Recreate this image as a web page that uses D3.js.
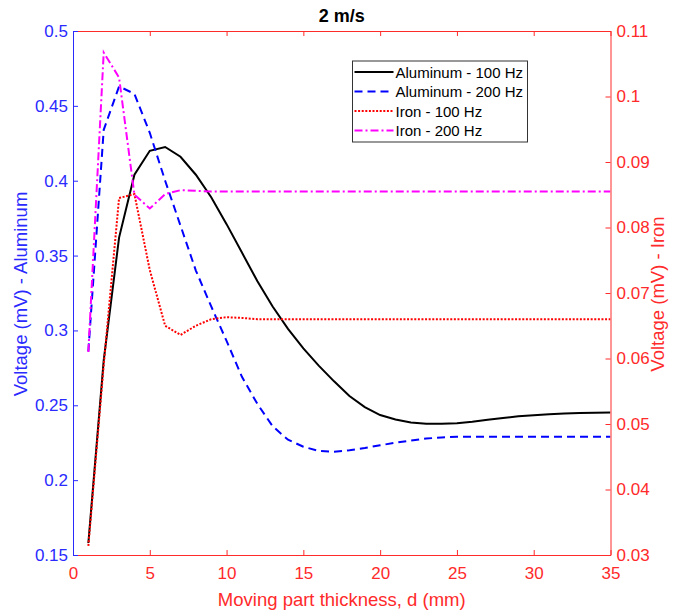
<!DOCTYPE html>
<html>
<head>
<meta charset="utf-8">
<script src="https://cdn.jsdelivr.net/npm/d3@7"></script>
<style>
  html, body { margin: 0; padding: 0; background: #fff; }
  text { font-family: "Liberation Sans", Arial, Helvetica, sans-serif; }
</style>
</head>
<body>
<svg id="chart" width="678" height="612"></svg>
<script>
// ---- Data ----
const thickness = d3.range(1, 36); // 1..35 mm
const aluminum100 = [0.158, 0.280, 0.362, 0.404, 0.420, 0.4225, 0.416, 0.404, 0.389, 0.371,
  0.352, 0.333, 0.316, 0.301, 0.288, 0.2765, 0.266, 0.2562, 0.2488, 0.2435,
  0.2405, 0.2385, 0.2376, 0.2376, 0.2380, 0.2390, 0.2403, 0.2415, 0.2426, 0.2434,
  0.2440, 0.2445, 0.2448, 0.2450, 0.2452];
const aluminum200 = [0.286, 0.434, 0.463, 0.458, 0.432, 0.400, 0.370, 0.340, 0.316, 0.293,
  0.269, 0.251, 0.236, 0.227, 0.2223, 0.2195, 0.219, 0.2200, 0.2215, 0.2233,
  0.2250, 0.2265, 0.2278, 0.2285, 0.2290, 0.2290, 0.2290, 0.2290, 0.2290, 0.2290,
  0.2290, 0.2290, 0.2290, 0.2290, 0.2290];
const iron100 = [0.0314, 0.059, 0.0845, 0.0851, 0.0735, 0.065, 0.0636, 0.065, 0.066, 0.0663,
  0.0662, 0.066, 0.066, 0.066, 0.066, 0.066, 0.066, 0.066, 0.066, 0.066,
  0.066, 0.066, 0.066, 0.066, 0.066, 0.066, 0.066, 0.066, 0.066, 0.066,
  0.066, 0.066, 0.066, 0.066, 0.066];
const iron200 = [0.061, 0.1067, 0.1029, 0.085, 0.0829, 0.0851, 0.0857, 0.0856, 0.0855, 0.0855,
  0.0855, 0.0855, 0.0855, 0.0855, 0.0855, 0.0855, 0.0855, 0.0855, 0.0855, 0.0855,
  0.0855, 0.0855, 0.0855, 0.0855, 0.0855, 0.0855, 0.0855, 0.0855, 0.0855, 0.0855,
  0.0855, 0.0855, 0.0855, 0.0855, 0.0855];
const seriesNames = ["Aluminum - 100 Hz", "Aluminum - 200 Hz", "Iron - 100 Hz", "Iron - 200 Hz"];
const xTicks = [0, 5, 10, 15, 20, 25, 30, 35];
const xTickLabels = ["0", "5", "10", "15", "20", "25", "30", "35"];
const leftTicks = [0.15, 0.2, 0.25, 0.3, 0.35, 0.4, 0.45, 0.5];
const leftTickLabels = ["0.15", "0.2", "0.25", "0.3", "0.35", "0.4", "0.45", "0.5"];
const rightTicks = [0.03, 0.04, 0.05, 0.06, 0.07, 0.08, 0.09, 0.1, 0.11];
const rightTickLabels = ["0.03", "0.04", "0.05", "0.06", "0.07", "0.08", "0.09", "0.1", "0.11"];
const titleText = "2 m/s";
const xLabel = "Moving part thickness, d (mm)";
const leftLabel = "Voltage (mV) - Aluminum";
const rightLabel = "Voltage (mV) - Iron";

// ---- Layout ----
const svg = d3.select("#chart");
const L = 73, R = 610.5, T = 31, B = 555;
const BLUE = "#0000ff", RED = "#ff0000", MAG = "#ff00ff";
const AXBLUE = "#2a2aff", AXRED = "#ff2a2a";
const FONT = "Liberation Sans, Arial, sans-serif";

const x = d3.scaleLinear().domain([0, 35]).range([L, R]);
const yL = d3.scaleLinear().domain([0.15, 0.5]).range([B, T]);
const yR = d3.scaleLinear().domain([0.03, 0.11]).range([B, T]);

svg.append("clipPath").attr("id", "clip")
  .append("rect").attr("x", L).attr("y", T).attr("width", R - L).attr("height", B - T);

const series = [
  { name: seriesNames[0], vals: aluminum100, y: yL, color: "#000", dash: null },
  { name: seriesNames[1], vals: aluminum200, y: yL, color: BLUE, dash: "8,5" },
  { name: seriesNames[2], vals: iron100, y: yR, color: RED, dash: "2,1.6" },
  { name: seriesNames[3], vals: iron200, y: yR, color: MAG, dash: "8,3,2,3" }
];

const g = svg.append("g").attr("clip-path", "url(#clip)");
series.forEach(s => {
  const line = d3.line().x((d, i) => x(thickness[i])).y(d => s.y(d));
  g.append("path").datum(s.vals)
    .attr("d", line)
    .attr("fill", "none")
    .attr("stroke", s.color)
    .attr("stroke-width", 2)
    .attr("stroke-dasharray", s.dash);
});

// axes
const tickSize = 5;
const fs = 17;
const xb = svg.append("g").attr("transform", `translate(0,${B})`)
  .call(d3.axisBottom(x).tickValues(xTicks).tickFormat((d, i) => xTickLabels[i]).tickSizeInner(-tickSize).tickSizeOuter(0).tickPadding(12));
xb.select(".domain").attr("stroke", AXRED);
xb.selectAll(".tick line").attr("stroke", AXRED);
xb.selectAll(".tick text").attr("fill", AXRED).attr("font-size", fs).attr("font-family", FONT);

const xt = svg.append("g").attr("transform", `translate(0,${T})`)
  .call(d3.axisTop(x).tickValues(xTicks).tickFormat("").tickSizeInner(-tickSize).tickSizeOuter(0));
xt.select(".domain").attr("stroke", AXRED);
xt.selectAll(".tick line").attr("stroke", AXRED);

const yl = svg.append("g").attr("transform", `translate(${L},0)`)
  .call(d3.axisLeft(yL).tickValues(leftTicks).tickFormat((d, i) => leftTickLabels[i]).tickSizeInner(-tickSize).tickSizeOuter(0).tickPadding(5));
yl.select(".domain").attr("stroke", AXBLUE);
yl.selectAll(".tick line").attr("stroke", AXBLUE);
yl.selectAll(".tick text").attr("fill", AXBLUE).attr("font-size", fs).attr("font-family", FONT);

const yr = svg.append("g").attr("transform", `translate(${R},0)`)
  .call(d3.axisRight(yR).tickValues(rightTicks).tickFormat((d, i) => rightTickLabels[i]).tickSizeInner(-tickSize).tickSizeOuter(0).tickPadding(6));
yr.select(".domain").attr("stroke", AXRED);
yr.selectAll(".tick line").attr("stroke", AXRED);
yr.selectAll(".tick text").attr("fill", AXRED).attr("font-size", fs).attr("font-family", FONT);

// title & labels
svg.append("text").attr("x", (L + R) / 2).attr("y", 22).attr("text-anchor", "middle")
  .attr("font-size", 18).attr("font-weight", "bold").attr("fill", "#000").text(titleText);
svg.append("text").attr("x", (L + R) / 2).attr("y", 606).attr("text-anchor", "middle")
  .attr("font-size", 18.5).attr("fill", AXRED).text(xLabel);
svg.append("text").attr("transform", `translate(27,${(T + B) / 2 + 1}) rotate(-90)`).attr("text-anchor", "middle")
  .attr("font-size", 18.5).attr("fill", AXBLUE).text(leftLabel);
svg.append("text").attr("transform", `translate(664,${(T + B) / 2 + 1}) rotate(-90)`).attr("text-anchor", "middle")
  .attr("font-size", 18.5).attr("fill", AXRED).text(rightLabel);

// legend
const lg = svg.append("g");
const lx = 352.5, ly = 61, lw = 175, lh = 81;
lg.append("rect").attr("x", lx).attr("y", ly).attr("width", lw).attr("height", lh)
  .attr("fill", "#fff").attr("stroke", "#333").attr("stroke-width", 1);
series.forEach((s, i) => {
  const cy = ly + 11 + i * 19.5;
  lg.append("line").attr("x1", lx + 2).attr("x2", lx + 41).attr("y1", cy).attr("y2", cy)
    .attr("stroke", s.color).attr("stroke-width", 2).attr("stroke-dasharray", s.dash);
  lg.append("text").attr("x", lx + 43).attr("y", cy + 5.5).attr("font-size", 15).attr("fill", "#000").text(s.name);
});
</script>
</body>
</html>
